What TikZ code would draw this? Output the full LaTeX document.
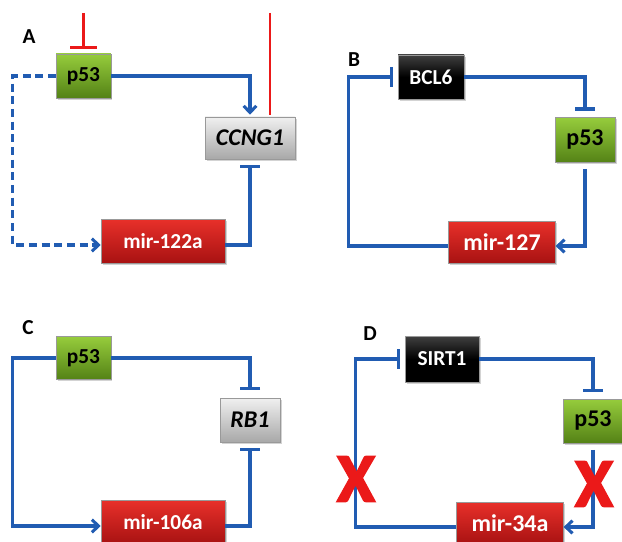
\documentclass[tikz,border=0pt]{standalone}
\usepackage{fontspec}
\setsansfont{Carlito}
\usetikzlibrary{arrows.meta,shadows}
\definecolor{linkblue}{RGB}{33,92,178}
\definecolor{sigred}{RGB}{235,25,25}
\definecolor{gtop}{RGB}{150,204,60}
\definecolor{gbot}{RGB}{84,130,22}
\definecolor{rtop}{RGB}{232,48,42}
\definecolor{rbot}{RGB}{168,18,18}
\definecolor{ytop}{RGB}{240,240,240}
\definecolor{ybot}{RGB}{168,168,168}
\tikzset{
  lbl/.style={font=\sffamily\bfseries\fontsize{16}{16}\selectfont},
  gene/.style={rectangle, draw=black!40, line width=0.4pt, inner sep=0pt,
    font=\sffamily\bfseries\fontsize{16}{16}\selectfont,
    drop shadow={shadow xshift=1.2pt, shadow yshift=-1.2pt, opacity=.35}},
  big/.style={font=\sffamily\bfseries\fontsize{18}{18}\selectfont},
  greenbox/.style={gene, top color=gtop, bottom color=gbot, text=black},
  redbox/.style={gene, top color=rtop, bottom color=rbot, text=white},
  graybox/.style={gene, top color=ytop, bottom color=ybot, text=black,
    font=\sffamily\bfseries\itshape\fontsize{18}{18}\selectfont},
  blackbox/.style={gene, top color=black!75, bottom color=black, middle color=black, text=white},
  act/.style={draw=linkblue, line width=2.3pt, -{Straight Barb[length=5pt,width=9.5pt]}},
  inh/.style={draw=linkblue, line width=2.3pt, -{Bar[width=15pt]}},
  sig/.style={draw=sigred, line width=2.1pt},
  cross/.style={text=sigred, inner sep=0pt,
    font=\sffamily\bfseries\fontsize{52}{52}\selectfont\addfontfeature{FakeBold=2.5}}
}
\begin{document}
\begin{tikzpicture}[x=0.75pt,y=-0.75pt]
    \useasboundingbox (0,0) rectangle (622,542);

    % A
    \node[lbl] (labA) at (29,37) {A};
    \node[greenbox, minimum width=41pt, minimum height=33pt] (pA) at (83.5,76) {p53};
    \node[graybox, minimum width=67.5pt, minimum height=31.5pt] (ccA) at (250,138) {CCNG1};
    \node[redbox, minimum width=93pt, minimum height=33pt] (mA) at (163,241) {mir-122a};
    \coordinate (sigA) at (83.5,13);
    \coordinate (sigB) at (270,13);
    \draw[sig, -{Bar[width=20pt]}, shorten >=3.75pt] (sigA) -- (sigA |- pA.north);
    \draw[sig] (sigB) -- ([yshift=1.5pt]sigB |- ccA.north);
    \draw[act, shorten >=1.5pt] (pA.east) -| (ccA.north);
    \draw[inh, shorten >=4.5pt] ([yshift=-3pt]mA.east) -| (ccA.south);
    \draw[act, dash pattern=on 6pt off 3.5pt] (pA.west) -- ++(-43,0) |- ([yshift=-3pt]mA.west);

    % B
    \node[lbl] (labB) at (354,60) {B};
    \node[blackbox, minimum width=49.5pt, minimum height=33pt] (bB) at (431,77) {BCL6};
    \node[greenbox, big, minimum width=45pt, minimum height=33.75pt] (pB) at (585,140) {p53};
    \node[redbox, big, minimum width=80pt, minimum height=31.5pt] (mB) at (502,242) {mir-127};
    \draw[inh, shorten >=5pt] (bB.east) -| (pB.north);
    \draw[act, shorten <=4.5pt] (pB.south) |- ([yshift=-3pt]mB.east);
    \draw[inh, shorten >=3.75pt] ([yshift=-3pt]mB.west) -- ++(-100,0) |- (bB.west);

    % C
    \node[lbl] (labC) at (28,328) {C};
    \node[greenbox, minimum width=41pt, minimum height=32.25pt] (pC) at (83.5,358) {p53};
    \node[graybox, minimum width=45pt, minimum height=33pt] (rC) at (250,420) {RB1};
    \node[redbox, minimum width=93pt, minimum height=32.25pt] (mC) at (163,522) {mir-106a};
    \draw[inh, shorten >=6pt] (pC.east) -| (rC.north);
    \draw[inh, shorten >=4.5pt] ([yshift=-3pt]mC.east) -| (rC.south);
    \draw[act] (pC.west) -- ++(-43,0) |- ([yshift=-3pt]mC.west);

    % D
    \node[lbl] (labD) at (370,334) {D};
    \node[blackbox, minimum width=55.5pt, minimum height=34.5pt] (sD) at (442,359) {SIRT1};
    \node[greenbox, big, minimum width=45pt, minimum height=33pt] (pD) at (593,421) {p53};
    \node[redbox, big, minimum width=80pt, minimum height=31.5pt] (mD) at (510,523) {mir-34a};
    \draw[inh, shorten >=5pt] (sD.east) -| (pD.north);
    \draw[act, shorten <=5pt] (pD.south) |- ([yshift=-3pt]mD.east);
    \draw[inh, shorten >=3.75pt] ([yshift=-3pt]mD.west) -- ++(-101,0) |- (sD.west);
    \node[cross] (xL) at (356,479) {X};
    \node[cross] (xR) at (594,484) {X};
\end{tikzpicture}
\end{document}
